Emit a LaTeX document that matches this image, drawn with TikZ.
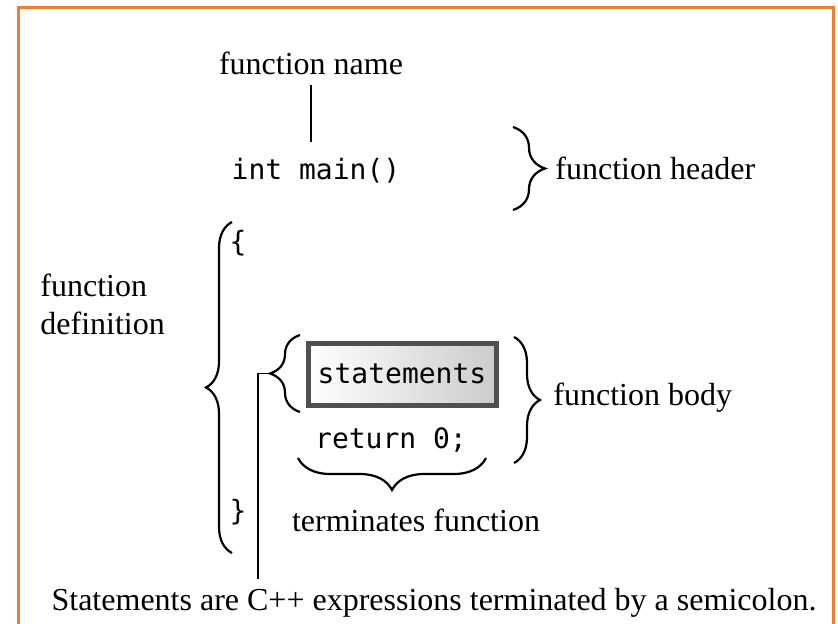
\documentclass[tikz,border=0pt]{standalone}
\usepackage{fontspec}
\setmainfont{Liberation Serif}
\setmonofont{DejaVu Sans Mono}
\usetikzlibrary{decorations.pathreplacing}
\definecolor{frameorange}{RGB}{237,125,49}
\definecolor{boxgray}{RGB}{80,80,80}

\begin{document}
\begin{tikzpicture}[x=0.5pt, y=-0.5pt,
	lbl/.style={font=\fontsize{16}{19}\selectfont, inner sep=0pt},
	code/.style={font=\fontsize{14}{16}\selectfont\ttfamily, inner sep=0pt},
	curly/.style={decorate, decoration={brace, amplitude=#1}, line width=1.1pt},
	wire/.style={line width=0.8pt}]
	% Frame:
	\useasboundingbox (0, 0) rectangle (838, 624);
	\draw[frameorange, line width=1.5pt] (18, 630) -- (18, 8) -- (833, 8) -- (833, 630);
	% Labels and code:
	\node[lbl] (fname) at (311, 63) {function name};
	\node[code] (main) at (316, 171) {int main()};
	\node[lbl, anchor=west] (fheader) at (555, 168) {function header};
	\node[lbl, anchor=west, align=left] (fdef) at (40, 304) {function\\definition};
	\node[code] (open) at (238, 243) {\{};
	\node[code] (close) at (238, 512) {\}};
	\node[code, draw=boxgray, line width=2.5pt, left color=white, right color=gray!40,
		minimum width=94pt, minimum height=31pt] (stmts) at (402, 374) {statements};
	\node[code] (ret) at (391, 440) {return 0;};
	\node[lbl, anchor=west] (fbody) at (553, 398) {function body};
	\node[lbl] (term) at (416, 520) {terminates function};
	\node[lbl] (note) at (434, 603) {Statements are C++ expressions terminated by a semicolon.};
	% Braces:
	\draw[curly=16pt] (513, 127) -- (513, 210);
	\draw[curly=13pt] (232, 553) -- (232, 222);
	\draw[curly=15pt] (300, 412) -- (300, 335) coordinate[midway, xshift=-15pt] (sb);
	\draw[curly=13pt] (514, 337) -- (514, 463);
	\draw[curly=16pt] (486, 458) -- (298, 458);
	% Wires:
	\coordinate (lineend) at (258, 579);
	\draw[wire] ([yshift=-5pt]fname.south) -- ([yshift=8pt]fname.south |- main.north);
	\draw[wire] (sb) -| (lineend);
\end{tikzpicture}
\end{document}
